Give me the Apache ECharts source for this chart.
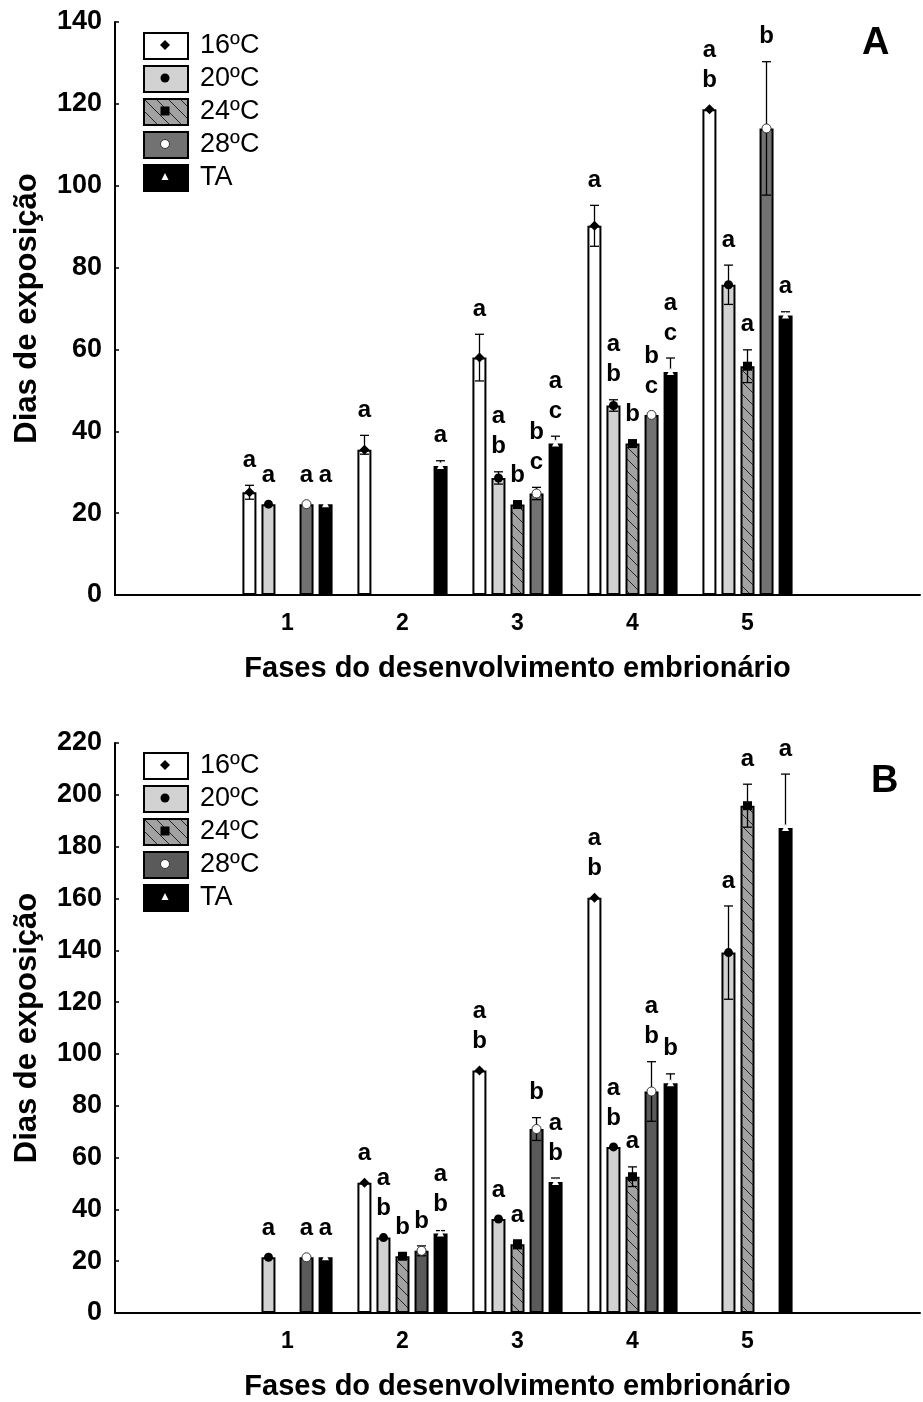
<!DOCTYPE html>
<html>
<head>
<meta charset="utf-8">
<script src="https://cdn.jsdelivr.net/npm/echarts@6/dist/echarts.min.js"></script>
<style>
  html, body { margin: 0; padding: 0; background: #fff; }
  #chart { width: 923px; height: 1402px; }
</style>
</head>
<body>
<div id="chart"></div>
<script>
// fases 1..5 com uma categoria vazia de cada lado
const fases = ['', '1', '2', '3', '4', '5', '']
const temps = ['16ºC', '20ºC', '24ºC', '28ºC', 'TA']

// Painel A - medias
const a16 = [25.1, 35.5, 58, 90.2, 118.7]
const a20 = [22.2, null, 28.6, 46.3, 75.8]
const a24 = [null, null, 22.1, 37, 55.9]
const a28 = [22.2, null, 24.8, 44, 114]
const aTA = [22.2, 31.5, 37, 54.5, 68.3]
// Painel A - erros (numero = simetrico, [baixo, cima])
const a16Err = [1.7, [1.1, 3.5], 5.7, 5, 0.3]
const a20Err = [0.3, 0, 1.5, 1.4, 4.8]
const a24Err = [0, 0, 0.4, 0.4, 4]
const a28Err = [0.2, 0, 1.5, 0.3, 16.3]
const aTAErr = [0.3, 1.3, 1.8, 3.4, 0.9]
// Painel A - letras
const a16Let = ['a', 'a', 'a', 'a', 'ab']
const a20Let = ['a', '', 'ab', 'ab', 'a']
const a24Let = ['', '', 'b', 'b', 'a']
const a28Let = ['a', '', 'bc', 'bc', 'b']
const aTALet = ['a', 'a', 'ac', 'ac', 'a']

// Painel B - medias
const b16 = [null, 50.3, 93.6, 160.3, null]
const b20 = [21.5, 29.1, 36.3, 64.1, 139.1]
const b24 = [null, 21.9, 26.5, 52.6, 195.8]
const b28 = [21.5, 24, 71, 85.5, null]
const bTA = [21.5, 30.7, 50.6, 88.7, 187.2]
// Painel B - erros
const b16Err = [0, 0.3, 0.3, 0.3, 0]
const b20Err = [0.3, 0.3, 0.3, 0.3, 18]
const b24Err = [0, 0.5, 1.7, 3.8, 8.3]
const b28Err = [0.3, 1.9, 4.4, 11.5, 0]
const bTAErr = [0.3, 1.1, 1.5, 3.6, 20.8]
// Painel B - letras
const b16Let = ['', 'a', 'ab', 'ab', '']
const b20Let = ['a', 'ab', 'a', 'ab', 'a']
const b24Let = ['', 'b', 'a', 'a', 'a']
const b28Let = ['a', 'b', 'b', 'ab', '']
const bTALet = ['a', 'ab', 'ab', 'b', 'a']

const font = 'Liberation Sans, Arial, sans-serif'

// hachurado da barra de 24ºC
function hatch() {
  const c = document.createElement('canvas')
  c.width = 12; c.height = 12
  const g = c.getContext('2d')
  g.fillStyle = '#a2a2a2'
  g.fillRect(0, 0, 12, 12)
  g.strokeStyle = '#222'
  g.lineWidth = 1
  g.beginPath()
  g.moveTo(-6, 6); g.lineTo(6, 18)
  g.moveTo(0, 0); g.lineTo(12, 12)
  g.moveTo(6, -6); g.lineTo(18, 6)
  g.stroke()
  return c
}
const hatchFill = { image: hatch(), repeat: 'repeat' }

const panels = [
  { vals: [a16, a20, a24, a28, aTA], errs: [a16Err, a20Err, a24Err, a28Err, aTAErr],
    lets: [a16Let, a20Let, a24Let, a28Let, aTALet], dark: '#727272',
    top: 22, height: 573, max: 140, tag: 'A', tagX: 857, tagY: 20, legY: 45 },
  { vals: [b16, b20, b24, b28, bTA], errs: [b16Err, b20Err, b24Err, b28Err, bTAErr],
    lets: [b16Let, b20Let, b24Let, b28Let, bTALet], dark: '#5a5a5a',
    top: 743, height: 572, max: 220, tag: 'B', tagX: 866, tagY: 758, legY: 765 }
]

function fills(p) {
  return ['#ffffff', '#d2d2d2', hatchFill, p.dark, '#000000']
}

// marcador no topo de cada barra
function marker(t, x, y) {
  const k = '#000'
  if (t === 0) return { type: 'polygon', shape: { points: [[x, y - 5], [x + 5, y], [x, y + 5], [x - 5, y]] }, style: { fill: k } }
  if (t === 1) return { type: 'circle', shape: { cx: x, cy: y, r: 4.5 }, style: { fill: k } }
  if (t === 2) return { type: 'rect', shape: { x: x - 4.5, y: y - 4.5, width: 9, height: 9 }, style: { fill: k } }
  if (t === 3) return { type: 'circle', shape: { cx: x, cy: y, r: 4.5 }, style: { fill: '#fff', stroke: '#333', lineWidth: 1 } }
  return { type: 'polygon', shape: { points: [[x, y - 4], [x + 3.5, y + 3], [x - 3.5, y + 3]] }, style: { fill: '#fff' } }
}

const series = []
panels.forEach((p, pi) => {
  const cols = fills(p)
  temps.forEach((name, t) => {
    series.push({
      type: 'bar', name, xAxisIndex: pi, yAxisIndex: pi,
      barWidth: 14, barGap: '36%',
      data: [null, ...p.vals[t], null],
      itemStyle: { color: cols[t], borderColor: '#000', borderWidth: 2 }
    })
  })
  temps.forEach((name, t) => {
    const vals = p.vals[t], errs = p.errs[t], lets = p.lets[t]
    series.push({
      type: 'custom', xAxisIndex: pi, yAxisIndex: pi, z: 5,
      data: vals.map((v, i) => [i + 1, v == null ? 0 : v]),
      renderItem: (params, api) => {
        const i = params.dataIndex
        const v = vals[i]
        if (v == null) return null
        const e = errs[i]
        const dn = Array.isArray(e) ? e[0] : e
        const up = Array.isArray(e) ? e[1] : e
        const c = api.coord([i + 1, v])
        const x = c[0] + (t - 2) * 19
        const yHi = api.coord([i + 1, v + up])[1]
        const yLo = api.coord([i + 1, v - dn])[1]
        const kids = []
        if (up > 0.5 || dn > 0.5) {
          const ls = { stroke: '#000', lineWidth: 1.3 }
          kids.push({ type: 'line', shape: { x1: x, y1: yHi, x2: x, y2: yLo }, style: ls })
          kids.push({ type: 'line', shape: { x1: x - 4.5, y1: yHi, x2: x + 4.5, y2: yHi }, style: ls })
          kids.push({ type: 'line', shape: { x1: x - 4.5, y1: yLo, x2: x + 4.5, y2: yLo }, style: ls })
        }
        kids.push(marker(t, x, c[1]))
        if (lets[i]) {
          kids.push({
            type: 'text',
            style: {
              text: lets[i].split('').join('\n'), x, y: Math.min(yHi, c[1] - 4) - 10,
              fill: '#000', font: 'bold 24px ' + font, lineHeight: 30,
              align: 'center', verticalAlign: 'bottom'
            }
          })
        }
        return { type: 'group', children: kids }
      }
    })
  })
})

// legenda desenhada com caixas e marcadores
const graphic = []
panels.forEach(p => {
  const cols = fills(p)
  temps.forEach((name, t) => {
    const cy = p.legY + t * 33
    graphic.push({ type: 'rect', left: 143, top: cy - 13, shape: { width: 44, height: 26 },
      style: { fill: cols[t], stroke: '#000', lineWidth: 2 }, z: 10 })
    const m = marker(t, 165, cy)
    m.z = 11
    graphic.push(m)
    graphic.push({ type: 'text', x: 200, y: cy + 1, z: 10,
      style: { text: name, font: '27px ' + font, fill: '#000', verticalAlign: 'middle' } })
  })
})

const option = {
  animation: false,
  backgroundColor: '#fff',
  textStyle: { fontFamily: font },
  title: panels.map(p => ({ text: p.tag, left: p.tagX, top: p.tagY,
    textStyle: { fontSize: 38, fontWeight: 'bold', color: '#000', fontFamily: font } })),
  grid: panels.map(p => ({ left: 115, width: 805, top: p.top, height: p.height })),
  xAxis: panels.map((p, i) => ({
    type: 'category', gridIndex: i, data: fases,
    name: 'Fases do desenvolvimento embrionário', nameLocation: 'middle', nameGap: 59,
    nameTextStyle: { fontSize: 29, fontWeight: 'bold', color: '#000' },
    axisLine: { lineStyle: { color: '#000', width: 2 } },
    axisTick: { alignWithLabel: true, inside: true, length: 4, lineStyle: { color: '#000', width: 1.5 } },
    axisLabel: { interval: 0, fontSize: 23, fontWeight: 'bold', color: '#000', margin: 17 }
  })),
  yAxis: panels.map((p, i) => ({
    type: 'value', gridIndex: i, min: 0, max: p.max, interval: 20,
    name: 'Dias de exposição', nameLocation: 'middle', nameGap: 72,
    nameTextStyle: { fontSize: 31, fontWeight: 'bold', color: '#000' },
    axisLine: { show: true, lineStyle: { color: '#000', width: 2 } },
    axisTick: { show: true, inside: true, length: 4, lineStyle: { color: '#000', width: 1.5 } },
    axisLabel: { fontSize: 27, fontWeight: 'bold', color: '#000', margin: 13 },
    splitLine: { show: false }
  })),
  graphic,
  series
}

const chart = echarts.init(document.getElementById('chart'))
chart.setOption(option)
</script>
</body>
</html>
